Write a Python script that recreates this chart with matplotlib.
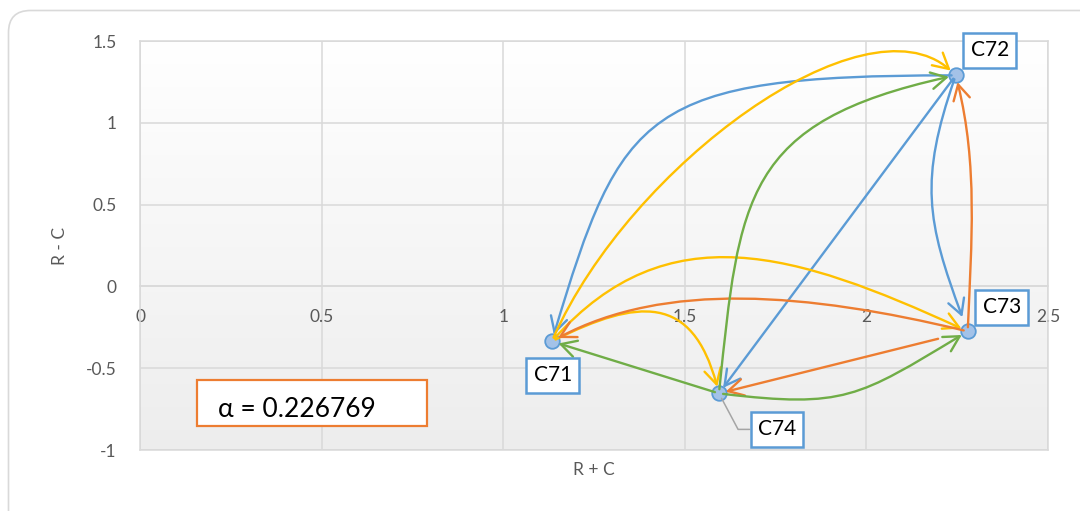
import numpy as np
import matplotlib
matplotlib.use("Agg")
import matplotlib.pyplot as plt
from matplotlib.patches import FancyArrowPatch, ConnectionStyle, FancyBboxPatch, Rectangle
from matplotlib.path import Path
from matplotlib.transforms import IdentityTransform

# ---- data -------------------------------------------------------------
factors = ["C71", "C72", "C73", "C74"]
r_plus_c = [1.134, 2.246, 2.279, 1.594]
r_minus_c = [-0.336, 1.290, -0.275, -0.654]
alpha_threshold = 0.226769

# influence links above the threshold (cause -> effect)
link_from = ["C72", "C72", "C72", "C71", "C71", "C71",
             "C73", "C73", "C73", "C74", "C74", "C74"]
link_to = ["C71", "C74", "C73", "C72", "C73", "C74",
           "C71", "C72", "C74", "C71", "C72", "C73"]

x_ticks = [0, 0.5, 1, 1.5, 2, 2.5]
x_tick_labels = ["0", "0.5", "1", "1.5", "2", "2.5"]
y_ticks = [-1, -0.5, 0, 0.5, 1, 1.5]
y_tick_labels = ["-1", "-0.5", "0", "0.5", "1", "1.5"]

# ---- style ------------------------------------------------------------
W, H = 1080, 511
FONT = ["Lato", "DejaVu Sans"]
plt.rcParams["font.family"] = FONT
GRID = "#D9D9D9"
TXT = "#595959"
cause_color = {"C72": "#5B9BD5", "C71": "#FFC000", "C73": "#ED7D31", "C74": "#70AD47"}

# curve shape per link: (start angle offset, start arm, end angle offset, end arm,
#                        shrinkA, shrinkB)
link_shape = [
    (-33.4, 0.65, 40.0, 0.50, 3, 5),
    (0, 1 / 3, 0, 1 / 3, 3, 5),
    (-22, 0.45, 18, 0.45, 3, 11),
    (33.3, 0.40, -79.8, 0.25, 3, 5),
    (47.4, 0.42, -26.1, 0.45, 3, 5),
    (43.9, 0.55, -59.0, 0.60, 3, 5),
    (-15.0, 0.40, 28.0, 0.30, 3, 5),
    (-5, 0.35, 12, 0.35, 3, 5),
    (0, 1 / 3, 0, 1 / 3, 22, 5),
    (0, 1 / 3, 0, 1 / 3, 3, 5),
    (30.7, 0.50, -41.3, 0.55, 3, 5),
    (-20.9, 0.50, 17.0, 0.50, 3, 5),
]


class CubicLink(ConnectionStyle._Base):
    """Cubic Bezier whose end tangents are rotated from the chord."""

    def __init__(self, dA, a, dB, b):
        self.dA, self.a, self.dB, self.b = dA, a, dB, b

    def connect(self, posA, posB):
        p0 = np.asarray(posA, float)
        p3 = np.asarray(posB, float)
        d = p3 - p0
        L = np.hypot(*d)
        ang = np.arctan2(d[1], d[0])
        tA = ang + np.radians(self.dA)
        tB = ang + np.radians(self.dB)
        p1 = p0 + self.a * L * np.array([np.cos(tA), np.sin(tA)])
        p2 = p3 - self.b * L * np.array([np.cos(tB), np.sin(tB)])
        return Path([p0, p1, p2, p3],
                    [Path.MOVETO, Path.CURVE4, Path.CURVE4, Path.CURVE4])


fig = plt.figure(figsize=(W / 100, H / 100), dpi=100)
fig.patch.set_facecolor("white")

# chart frame
frame = FancyBboxPatch((8.5, -30), 1120, H - 10 + 30 - 0.5,
                       boxstyle="round,pad=0,rounding_size=22",
                       transform=IdentityTransform(), facecolor="white",
                       edgecolor=GRID, linewidth=1.2, zorder=0)
fig.add_artist(frame)

ax = fig.add_axes([140 / W, 61 / H, 908 / W, 409 / H])
ax.set_xlim(0, 2.5)
ax.set_ylim(-1, 1.5)
ax.patch.set_alpha(0)

# plot-area gradient
grad = np.linspace(1.0, 0.0, 256)[:, None]
shade = np.interp(grad, [0, 1], [0.93, 1.0])
img = np.dstack([shade, shade, shade])
ax.imshow(img, extent=[0, 2.5, -1, 1.5], aspect="auto", zorder=0,
          interpolation="bicubic")

ax.set_xticks(x_ticks, x_tick_labels)
ax.set_yticks(y_ticks, y_tick_labels)
ax.grid(True, color=GRID, linewidth=1.1)
ax.set_axisbelow(True)
for s in ax.spines.values():
    s.set_color(GRID)
    s.set_linewidth(1.1)
ax.spines["bottom"].set_position(("data", 0))
ax.axhline(-1, color=GRID, linewidth=1.1, clip_on=False, zorder=0.6)
ax.tick_params(axis="both", length=0, labelsize=12.5, labelcolor=TXT)
ax.tick_params(axis="x", pad=16)
ax.tick_params(axis="y", pad=17)

ax.set_xlabel("R + C", fontsize=12.5, color=TXT)
ax.set_ylabel("R - C", fontsize=12.5, color=TXT)
ax.xaxis.set_label_coords(0.5, -0.05)
ax.xaxis.label.set_va("center")
ax.yaxis.set_label_coords(-0.088, 0.5)
ax.yaxis.label.set_va("center")

pos = {f: (x, y) for f, x, y in zip(factors, r_plus_c, r_minus_c)}

# factor markers
ax.scatter(r_plus_c, r_minus_c, s=110, facecolor="#A3C2E8",
           edgecolor="#5B9BD5", linewidth=1.3, zorder=3)

# influence arrows
for src, dst, shp in zip(link_from, link_to, link_shape):
    dA, a, dB, b, sA, sB = shp
    arr = FancyArrowPatch(pos[src], pos[dst],
                          connectionstyle=CubicLink(dA, a, dB, b),
                          arrowstyle="->,head_length=0.55,head_width=0.3",
                          mutation_scale=20, color=cause_color[src],
                          linewidth=1.7, shrinkA=sA, shrinkB=sB, zorder=4)
    ax.add_patch(arr)

# factor labels
label_offsets = {"C71": (1, -34), "C72": (34, 25), "C73": (34, 24), "C74": (58, -36)}
box = dict(boxstyle="square,pad=0.35", facecolor="white", edgecolor="#5B9BD5",
           linewidth=1.8)
for f in factors:
    kw = {}
    if f == "C74":
        kw["arrowprops"] = dict(arrowstyle="-", color="#A5A5A5", linewidth=1.1,
                                connectionstyle="angle,angleA=0,angleB=-62,rad=0",
                                shrinkA=0, shrinkB=4)
    ax.annotate(f, pos[f], xytext=label_offsets[f], textcoords="offset pixels",
                ha="center", va="center", fontsize=15, color="black",
                bbox=box, zorder=6, **kw)

# threshold box
fig.add_artist(Rectangle((197 / W, 1 - 426 / H), 230 / W, 46 / H,
                         transform=fig.transFigure, facecolor="white",
                         edgecolor="#ED7D31", linewidth=1.6, zorder=5))
fig.text(218 / W, 1 - 409 / H, f"\u03b1 = {alpha_threshold}", fontsize=19,
         family=FONT, color="black", ha="left", va="center", zorder=6)

fig.savefig("out.png", dpi=100)
